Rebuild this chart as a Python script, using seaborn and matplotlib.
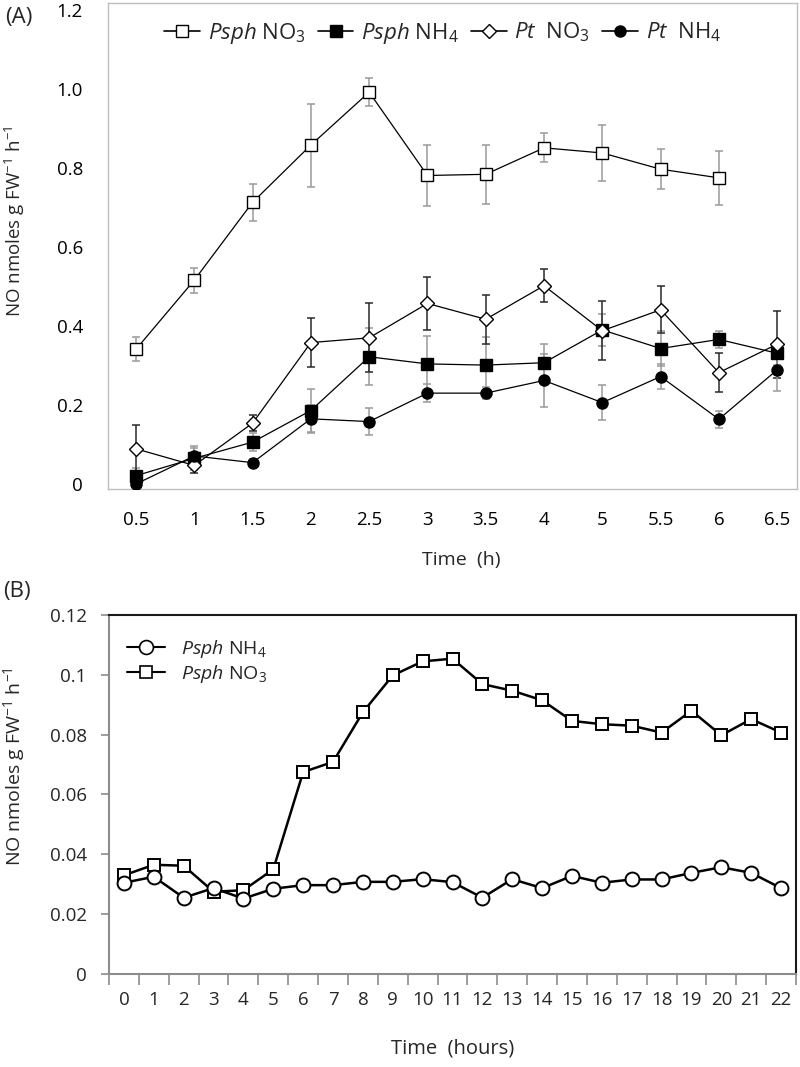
import numpy as np
import seaborn as sns
import matplotlib.pyplot as plt
from matplotlib.lines import Line2D
from matplotlib.ticker import FixedLocator

sns.set_style('white')
plt.rcParams['font.family'] = ['Open Sans', 'DejaVu Sans']
plt.rcParams['mathtext.fontset'] = 'custom'
plt.rcParams['mathtext.rm'] = 'Open Sans'
plt.rcParams['mathtext.it'] = 'Open Sans:italic'
plt.rcParams['mathtext.bf'] = 'Open Sans:bold'

# Panel A: NO emission over first hours (mean +/- error)
time_a = ['0.5', '1', '1.5', '2', '2.5', '3', '3.5', '4', '5', '5.5', '6', '6.5']
psph_no3 = [0.341, 0.516, 0.713, 0.858, 0.992, 0.781, 0.784, 0.851, 0.838, 0.797, 0.775, np.nan]
psph_no3_err = [0.030, 0.032, 0.046, 0.105, 0.036, 0.078, 0.075, 0.037, 0.071, 0.050, 0.068, np.nan]
psph_nh4 = [0.021, 0.065, 0.106, 0.186, 0.322, 0.304, 0.301, 0.307, 0.390, 0.343, 0.366, 0.331]
psph_nh4_err = [0.020, 0.030, 0.022, 0.055, 0.072, 0.070, 0.070, 0.047, 0.040, 0.045, 0.022, 0.030]
pt_no3 = [0.089, 0.047, 0.154, 0.358, 0.370, 0.457, 0.417, 0.502, 0.388, 0.441, 0.282, 0.354]
pt_no3_err = [0.060, 0.020, 0.020, 0.063, 0.087, 0.067, 0.062, 0.042, 0.075, 0.060, 0.050, 0.085]
pt_nh4 = [0.0, 0.071, 0.054, 0.165, 0.158, 0.230, 0.230, 0.262, 0.206, 0.272, 0.164, 0.289]
pt_nh4_err = [0.005, 0.020, 0.010, 0.035, 0.035, 0.022, 0.015, 0.066, 0.044, 0.032, 0.022, 0.053]
yticks_a = [0, 0.2, 0.4, 0.6, 0.8, 1.0, 1.2]
yticklabels_a = ['0', '0.2', '0.4', '0.6', '0.8', '1.0', '1.2']

# Panel B: NO emission over 22 hours
time_b = [str(h) for h in range(23)]
b_nh4 = [0.0305, 0.0325, 0.0255, 0.0287, 0.0252, 0.0285, 0.0297, 0.0297, 0.0308, 0.0308,
         0.0317, 0.0307, 0.0255, 0.0317, 0.0287, 0.0328, 0.0305, 0.0316, 0.0316, 0.0338,
         0.0357, 0.0338, 0.0287]
b_no3 = [0.0330, 0.0365, 0.0362, 0.0275, 0.0280, 0.0350, 0.0675, 0.0709, 0.0875, 0.0998,
         0.1045, 0.1054, 0.0969, 0.0947, 0.0915, 0.0846, 0.0835, 0.0830, 0.0807, 0.0880,
         0.0798, 0.0852, 0.0807]
yticks_b = [0, 0.02, 0.04, 0.06, 0.08, 0.10, 0.12]
yticklabels_b = ['0', '0.02', '0.04', '0.06', '0.08', '0.1', '0.12']

lab_psph_no3 = r'$\it{Psph}$ NO$_3$'
lab_psph_nh4 = r'$\it{Psph}$ NH$_4$'
lab_pt_no3 = r'$\it{Pt}$  NO$_3$'
lab_pt_nh4 = r'$\it{Pt}$  NH$_4$'
ylab = r'NO nmoles g FW$^{-1}$ h$^{-1}$'

fig = plt.figure(figsize=(8, 10.67), dpi=100)
ax_a = fig.add_axes([0.135, 0.5417, 0.86125, 0.4555])
ax_b = fig.add_axes([0.13625, 0.08716, 0.85875, 0.33646])

# ---- Panel A ----
pos_a = np.arange(len(time_a))
series_a = [
    (psph_no3, psph_no3_err, 's', 8, 'white', '#9a9a9a', lab_psph_no3),
    (psph_nh4, psph_nh4_err, 's', 8, 'black', '#9a9a9a', lab_psph_nh4),
    (pt_no3, pt_no3_err, 'D', 7, 'white', '#2a2a2a', lab_pt_no3),
    (pt_nh4, pt_nh4_err, 'o', 8, 'black', '#9a9a9a', lab_pt_nh4),
]
handles = []
labels = []
for vals, errs, mk, ms, face, ecol, lab in series_a:
    v = np.array(vals, dtype=float)
    e = np.array(errs, dtype=float)
    keep = ~np.isnan(v)
    ax_a.errorbar(pos_a[keep], v[keep], yerr=e[keep], fmt='none', ecolor=ecol,
                  elinewidth=1.1, capsize=3, capthick=1.1, zorder=1)
    sns.lineplot(x=pos_a[keep], y=v[keep], ax=ax_a, color='black', linewidth=0.9,
                 marker=mk, markersize=ms, markerfacecolor=face, markeredgecolor='black',
                 markeredgewidth=1.0, zorder=3)
    handles.append(Line2D([], [], color='black', linewidth=1.2, marker=mk, markersize=ms,
                          markerfacecolor=face, markeredgecolor='black', markeredgewidth=1.0))
    labels.append(lab)

ax_a.set_xlim(-0.48, 11.34)
ax_a.set_ylim(-0.0127, 1.2177)
ax_a.set_xticks(pos_a)
ax_a.set_xticklabels(time_a)
ax_a.set_yticks(yticks_a)
ax_a.set_yticklabels(yticklabels_a)
ax_a.tick_params(axis='both', length=0, labelsize=13.5, colors='black')
ax_a.tick_params(axis='y', pad=18)
ax_a.tick_params(axis='x', pad=16)
for sp in ax_a.spines.values():
    sp.set_color('#bfbfbf')
    sp.set_linewidth(1.0)
ax_a.set_xlabel('Time  (h)', fontsize=14)
ax_a.xaxis.set_label_coords(0.512, -0.128)
ax_a.set_ylabel(ylab, fontsize=13.5)
ax_a.yaxis.set_label_coords(-0.1176, 0.551)
ax_a.legend(handles, labels, loc='center', bbox_to_anchor=(0.486, 0.938), ncol=4,
            frameon=False, fontsize=16, handlelength=1.6, handletextpad=0.35,
            columnspacing=0.55)

# ---- Panel B ----
pos_b = np.arange(len(time_b))
sns.lineplot(x=pos_b, y=b_no3, ax=ax_b, color='black', linewidth=1.8, marker='s',
             markersize=9, markerfacecolor='white', markeredgecolor='black',
             markeredgewidth=1.4, zorder=2)
sns.lineplot(x=pos_b, y=b_nh4, ax=ax_b, color='black', linewidth=1.8, marker='o',
             markersize=10, markerfacecolor='white', markeredgecolor='black',
             markeredgewidth=1.4, zorder=3)
ax_b.set_xlim(-0.5, 22.5)
ax_b.set_ylim(0, 0.12)
ax_b.set_xticks(pos_b)
ax_b.set_xticklabels(time_b)
ax_b.xaxis.set_minor_locator(FixedLocator(np.arange(-0.5, 23, 1.0)))
ax_b.set_yticks(yticks_b)
ax_b.set_yticklabels(yticklabels_b)
ax_b.tick_params(axis='x', which='major', length=0, labelsize=13.5, pad=12)
ax_b.tick_params(axis='x', which='minor', length=8, width=1.2, color='#8c8c8c',
                 direction='out', bottom=True)
ax_b.tick_params(axis='y', length=6, width=1.2, color='#8c8c8c', direction='out',
                 left=True, labelsize=13.5, pad=10)
for side in ['left', 'bottom']:
    ax_b.spines[side].set_color('#8c8c8c')
    ax_b.spines[side].set_linewidth(1.5)
for side in ['top', 'right']:
    ax_b.spines[side].set_color('#1a1a1a')
    ax_b.spines[side].set_linewidth(1.5)
ax_b.set_xlabel('Time  (hours)', fontsize=14.5)
ax_b.xaxis.set_label_coords(0.5, -0.18)
ax_b.set_ylabel(ylab, fontsize=14)
ax_b.yaxis.set_label_coords(-0.119, 0.577)
hb = [Line2D([], [], color='black', linewidth=1.5, marker='o', markersize=10,
             markerfacecolor='white', markeredgecolor='black', markeredgewidth=1.2),
      Line2D([], [], color='black', linewidth=1.5, marker='s', markersize=9,
             markerfacecolor='white', markeredgecolor='black', markeredgewidth=1.2)]
ax_b.legend(hb, [lab_psph_nh4, lab_psph_no3], loc='upper left',
            bbox_to_anchor=(0.0, 0.985), frameon=False, fontsize=14,
            handlelength=2.0, handletextpad=0.8, labelspacing=0.15)

fig.text(5 / 800, 1 - 17 / 1067, '(A)', fontsize=16, ha='left', va='center')
fig.text(3 / 800, 1 - 592 / 1067, '(B)', fontsize=16, ha='left', va='center')

plt.savefig('out.png', dpi=100)
